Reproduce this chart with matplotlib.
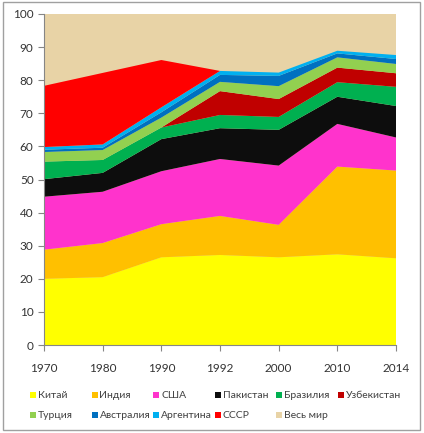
import matplotlib.pyplot as plt
from matplotlib.patches import Rectangle

plt.rcParams['font.family'] = ['Lato', 'DejaVu Sans']

# data (share of world cotton production, %)
years = ['1970', '1980', '1990', '1992', '2000', '2010', '2014']
china = [20.0, 20.5, 26.5, 27.2, 26.5, 27.4, 26.2]
india = [8.8, 10.3, 10.0, 11.8, 9.8, 26.5, 26.5]
usa = [16.0, 15.5, 16.0, 17.2, 17.9, 12.9, 10.0]
pakistan = [5.3, 5.7, 9.7, 9.3, 10.8, 8.2, 9.5]
brazil = [5.3, 3.9, 3.5, 4.0, 3.9, 4.4, 5.8]
uzbekistan = [0.0, 0.0, 0.0, 7.2, 5.4, 4.4, 4.1]
turkey = [2.9, 3.0, 3.0, 2.8, 3.9, 3.1, 2.8]
australia = [0.7, 0.7, 1.6, 2.1, 3.1, 1.2, 1.5]
argentina = [0.8, 1.0, 1.5, 1.2, 1.0, 0.8, 1.2]
ussr = [18.5, 21.6, 14.3, 0.0, 0.0, 0.0, 0.0]
world = [100, 100, 100, 100, 100, 100, 100]

series = [china, india, usa, pakistan, brazil, uzbekistan, turkey, australia, argentina, ussr]
labels = ['Китай', 'Индия', 'США', 'Пакистан', 'Бразилия', 'Узбекистан',
          'Турция', 'Австралия', 'Аргентина', 'СССР']
colors = ['#FFFF00', '#FFC000', '#FF33CC', '#0D0D0D', '#00B050', '#C00000',
          '#92D050', '#0070C0', '#00B0F0', '#FF0000']
world_color = '#E8D3A6'

W, H = 424, 433
fig = plt.figure(figsize=(W / 100, H / 100), dpi=100)
ax = fig.add_axes([44 / W, 1 - 345 / H, 352 / W, 331 / H])

x = list(range(len(years)))
ax.fill_between(x, 0, world, color=world_color, linewidth=0)
ax.stackplot(x, *series, colors=colors, linewidth=0)

ax.set_xlim(0, len(years) - 1)
ax.set_ylim(0, 100)
ax.set_xticks(x)
ax.set_xticklabels(years)
ax.set_yticks(range(0, 101, 10))
for s in ['top', 'right']:
    ax.spines[s].set_visible(False)
for s in ['left', 'bottom']:
    ax.spines[s].set_color('#868686')
ax.tick_params(colors='#868686', labelcolor='#333333', labelsize=8.5, length=4)
ax.tick_params(axis='x', pad=9)

# legend drawn by hand: 6 equal columns, 2 rows
names = labels + ['Весь мир']
cols = colors + [world_color]
for i, (name, c) in enumerate(zip(names, cols)):
    row, col = divmod(i, 6)
    px = 30 + col * 61.5
    py = 395 + row * 20
    fig.add_artist(Rectangle((px / W, 1 - (py + 3) / H), 6 / W, 6 / H,
                             transform=fig.transFigure, color=c, linewidth=0))
    fig.text((px + 8) / W, 1 - py / H, name, fontsize=7.5, color='#404040',
             va='center', ha='left')

fig.add_artist(Rectangle((3 / W, 1 - 430 / H), 417 / W, 428 / H, transform=fig.transFigure,
                         fill=False, edgecolor='#A0A0A0', linewidth=1))

plt.savefig('out.png', dpi=100)
